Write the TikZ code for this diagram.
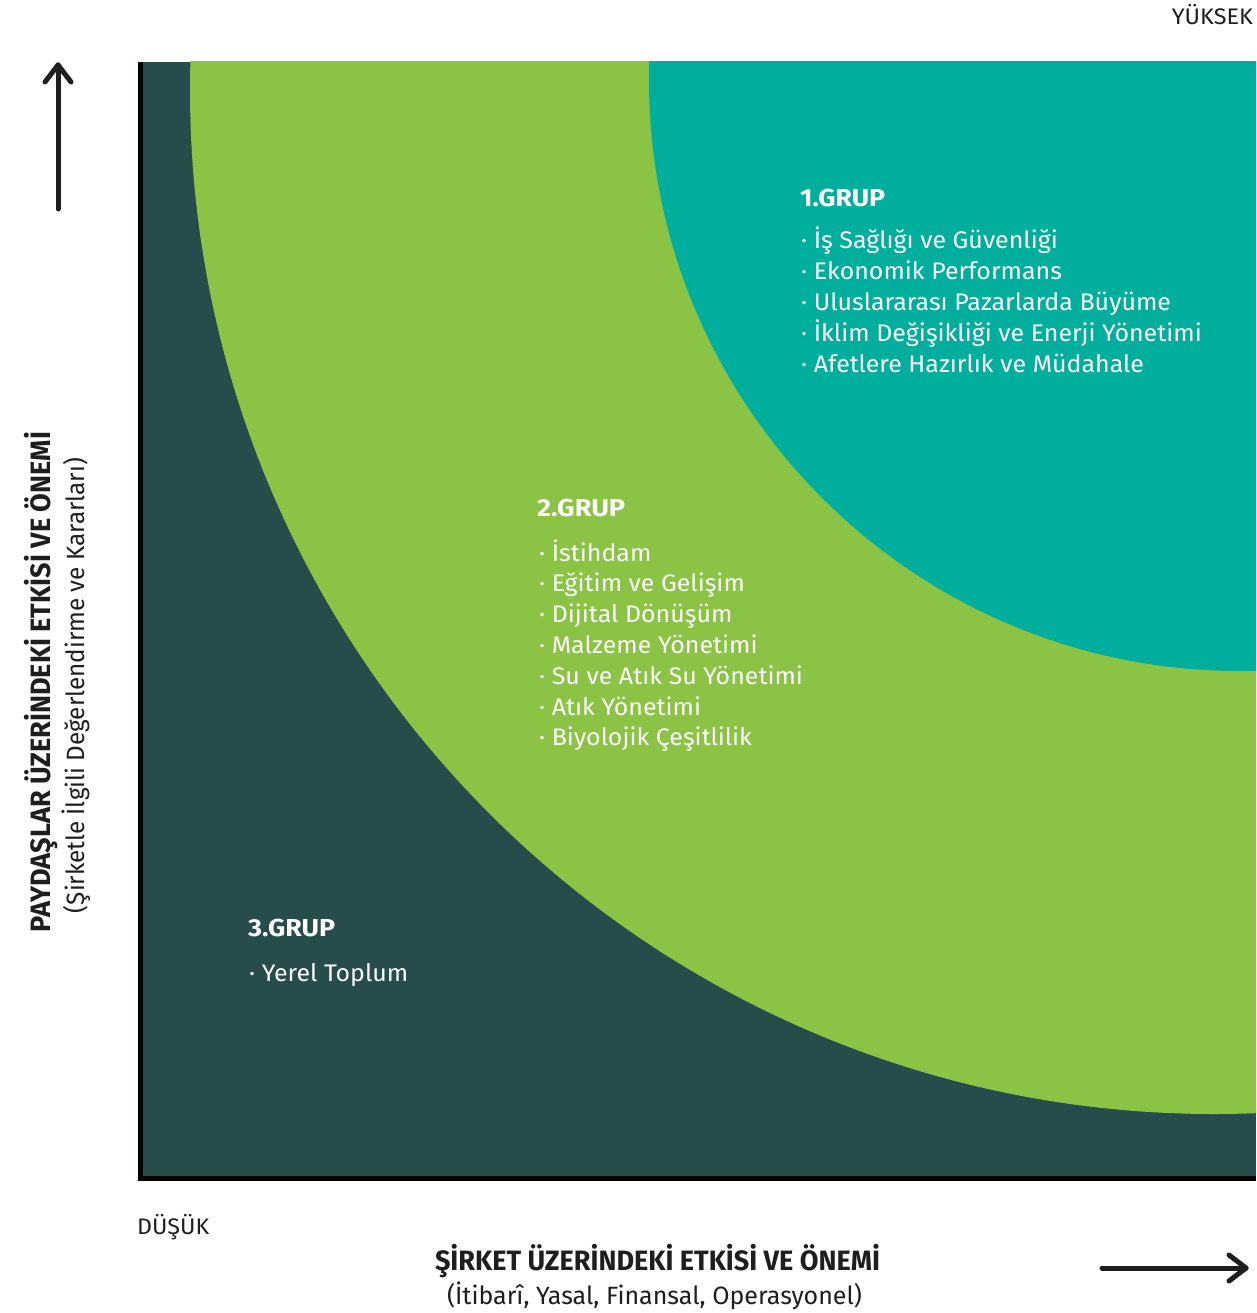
\documentclass[tikz,border=0pt]{standalone}
\usepackage{fontspec}
\setmainfont{Fira Sans}
\usepackage{graphicx}
\definecolor{darkbg}{RGB}{38,77,76}
\definecolor{lgreen}{RGB}{139,195,68}
\definecolor{tealc}{RGB}{0,174,158}
\definecolor{inkc}{RGB}{30,30,30}
\newcommand{\hfit}[2]{\resizebox{#1}{\height}{#2}}
\newcommand{\itm}[1]{\scalebox{1.04}[1]{· #1}}
\begin{document}
\begin{tikzpicture}[x=1pt,y=-1pt,
  itemtxt/.style={anchor=base west, inner sep=0pt, text=white, font=\fontsize{24}{29}\selectfont},
  titletxt/.style={anchor=base west, inner sep=0pt, text=white, font=\bfseries\fontsize{24.5}{29}\selectfont},
  axistxt/.style={inner sep=0pt, text=inkc},
  arrowline/.style={draw=inkc, line width=5pt, line cap=round, line join=round}
]
\useasboundingbox (0,0) rectangle (1256,1313);
% frame and background
\fill[black] (138,62) rectangle (1256,1181);
\fill[darkbg] (143,62) rectangle (1256,1176);
\begin{scope}
  \clip (143,62) rectangle (1256,1176);
  \fill[lgreen] (1214,90) circle[radius=1024pt];
  \fill[tealc] (1240,80) circle[radius=591pt];
\end{scope}
% group 1
\node[titletxt] (g1) at (800,206.7) {\hfit{85pt}{1.GRUP}};
\node[itemtxt] (g1a) at (801,248.5) {\itm{İş Sağlığı ve Güvenliği}};
\node[itemtxt] (g1b) at (801,279.6) {\itm{Ekonomik Performans}};
\node[itemtxt] (g1c) at (801,310.7) {\itm{Uluslararası Pazarlarda Büyüme}};
\node[itemtxt] (g1d) at (801,341.8) {\itm{İklim Değişikliği ve Enerji Yönetimi}};
\node[itemtxt] (g1e) at (801,372.9) {\itm{Afetlere Hazırlık ve Müdahale}};
% group 2
\node[titletxt] (g2) at (537,516.7) {\hfit{88pt}{2.GRUP}};
\node[itemtxt] (g2a) at (539,561) {\itm{İstihdam}};
\node[itemtxt] (g2b) at (539,591.8) {\itm{Eğitim ve Gelişim}};
\node[itemtxt] (g2c) at (539,622.6) {\itm{Dijital Dönüşüm}};
\node[itemtxt] (g2d) at (539,653.4) {\itm{Malzeme Yönetimi}};
\node[itemtxt] (g2e) at (539,684.2) {\itm{Su ve Atık Su Yönetimi}};
\node[itemtxt] (g2f) at (539,715) {\itm{Atık Yönetimi}};
\node[itemtxt] (g2g) at (539,745.8) {\itm{Biyolojik Çeşitlilik}};
% group 3
\node[titletxt] (g3) at (248,936.7) {\hfit{87pt}{3.GRUP}};
\node[itemtxt] (g3a) at (249,981.7) {\itm{Yerel Toplum}};
% axis labels
\node[axistxt, anchor=base east, font=\fontsize{22.5}{26}\selectfont] (hi) at (1253,25) {\hfit{81pt}{YÜKSEK}};
\node[axistxt, anchor=base west, font=\fontsize{22.5}{26}\selectfont] (lo) at (137,1234) {\hfit{72pt}{DÜŞÜK}};
\node[axistxt, anchor=base, font=\bfseries\fontsize{28}{32}\selectfont] (xt) at (657.5,1270) {\hfit{445pt}{ŞİRKET ÜZERİNDEKİ ETKİSİ VE ÖNEMİ}};
\node[axistxt, anchor=base, font=\fontsize{25}{30}\selectfont] (xs) at (654.5,1304) {\hfit{415pt}{(İtibarî, Yasal, Finansal, Operasyonel)}};
\node[axistxt, anchor=base, rotate=90, font=\bfseries\fontsize{28}{32}\selectfont] (yt) at (50,682) {\hfit{500pt}{PAYDAŞLAR ÜZERİNDEKİ ETKİSİ VE ÖNEMİ}};
\node[axistxt, anchor=base, rotate=90, font=\fontsize{25}{30}\selectfont] (ys) at (84,685.5) {\hfit{455pt}{(Şirketle İlgili Değerlendirme ve Kararları)}};
% arrows
\coordinate (upS) at (58,209);
\coordinate (upE) at (58,65);
\draw[arrowline] (upS) -- (upE);
\draw[arrowline] ([shift={(-13,17)}]upE) -- (upE) -- ([shift={(13,17)}]upE);
\coordinate (rtS) at (1102,1268);
\coordinate (rtE) at (1246,1268);
\draw[arrowline] (rtS) -- (rtE);
\draw[arrowline] ([shift={(-17,-13)}]rtE) -- (rtE) -- ([shift={(-17,13)}]rtE);
\end{tikzpicture}
\end{document}
